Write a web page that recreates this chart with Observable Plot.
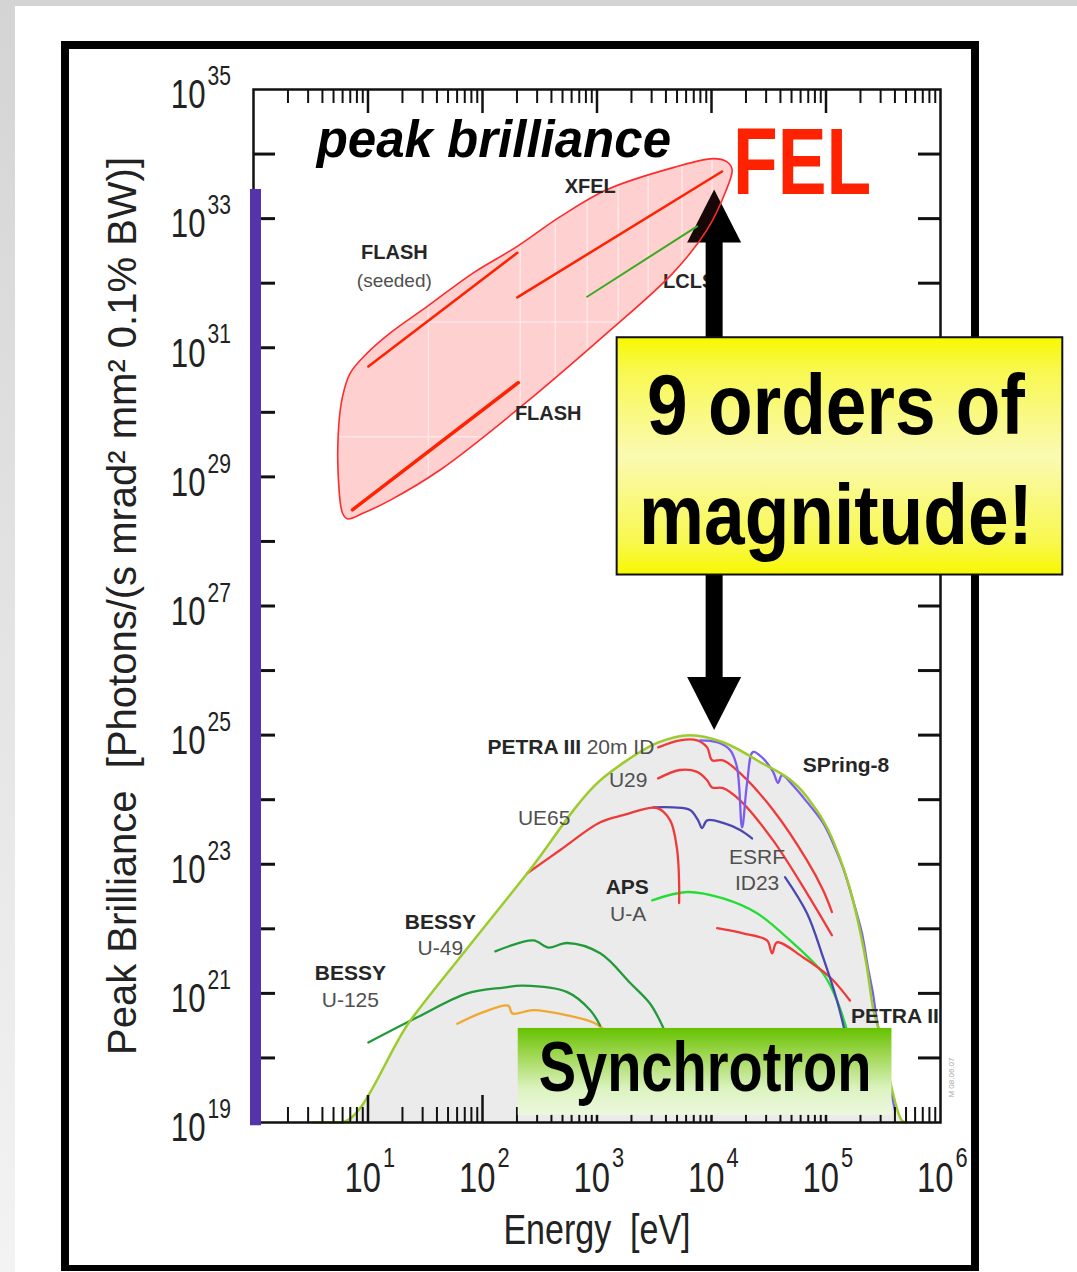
<!DOCTYPE html>
<html>
<head>
<meta charset="utf-8">
<script src="https://cdn.jsdelivr.net/npm/d3@7"></script>
<script src="https://cdn.jsdelivr.net/npm/@observablehq/plot@0.6"></script>
<style>
  html, body { margin: 0; padding: 0; background: #fff; }
  #page { position: relative; width: 1077px; height: 1272px; overflow: hidden; background: #fff; }
  #topband { position: absolute; left: 0; top: 0; width: 1077px; height: 6px; background: #d4d4d4; }
  #leftband { position: absolute; left: 0; top: 0; width: 15px; height: 1272px; background: linear-gradient(#d4d4d4, #f3f3f3); }
  #border { position: absolute; left: 61px; top: 41px; width: 902px; height: 1216px; border: 8px solid #000; border-bottom-width: 6px; }
  #chart { position: absolute; left: 0; top: 0; }
</style>
</head>
<body>
<div id="page">
  <div id="topband"></div>
  <div id="leftband"></div>
  <div id="border"></div>
  <div id="chart"></div>
</div>
<script>
// All positions are decades: [log10 photon energy (eV), log10 peak brilliance].
const energyDecades = [0, 6];
const brillianceDecades = [19, 35];
const energyLabelExps = [1, 2, 3, 4, 5, 6];
const energyMajorTicks = [1, 2, 3, 4, 5];
const brillianceLabelExps = [19, 21, 23, 25, 27, 29, 31, 33, 35];
const brillianceTicks = [20, 21, 22, 23, 24, 25, 26, 27, 28, 29, 30, 31, 32, 33, 34];

// Envelope of third-generation storage-ring sources
const storageEnvelope = [
  [0.515, 19.0], [0.759, 19.0], [1.370, 20.58], [1.832, 21.62], [2.391, 22.86],
  [3.028, 24.30], [3.229, 24.57], [3.525, 24.88], [3.813, 25.00], [4.101, 24.89],
  [4.398, 24.61], [4.834, 24.04], [5.061, 23.37], [5.236, 22.44], [5.358, 21.40],
  [5.410, 20.78], [5.471, 20.38], [5.558, 19.65], [5.663, 19.03], [5.700, 19.0]
];

// Individual undulators
const petra3Id20m = [[3.534, 24.81], [3.726, 24.92], [3.874, 24.92], [3.962, 24.81], [4.005, 24.61], [4.101, 24.61], [4.250, 24.41], [4.538, 23.84], [4.834, 23.06], [4.974, 22.60], [5.052, 22.26]];
const petra3U29 = [[3.534, 24.33], [3.726, 24.46], [3.874, 24.43], [3.962, 24.30], [4.005, 24.19], [4.101, 24.18], [4.250, 23.99], [4.538, 23.37], [4.834, 22.55], [5.052, 21.90]];
const spring8 = [[3.901, 24.92], [4.049, 24.89], [4.162, 24.77], [4.223, 24.50], [4.267, 23.57], [4.311, 24.26], [4.363, 24.74], [4.450, 24.64], [4.538, 24.43], [4.581, 24.26], [4.616, 24.38], [4.712, 24.22], [4.799, 24.04], [4.974, 23.64], [5.061, 23.33], [5.148, 22.95], [5.236, 22.44], [5.314, 21.93], [5.366, 21.40], [5.410, 21.00], [5.445, 20.58], [5.515, 19.96], [5.602, 19.19]];
const bessyUE65 = [[2.391, 22.86], [2.679, 23.22], [3.028, 23.65], [3.229, 23.76], [3.525, 23.87], [3.639, 23.68], [3.700, 23.22], [3.717, 22.71], [3.717, 22.40]];
const esrfUpper = [[3.490, 23.88], [3.665, 23.88], [3.813, 23.84], [3.883, 23.68], [3.918, 23.56], [3.962, 23.68], [4.101, 23.64], [4.250, 23.53], [4.354, 23.40]];
const esrfId23 = [[4.642, 22.80], [4.834, 22.24], [4.974, 21.56], [5.096, 20.89], [5.183, 20.27]];
const apsUA = [[3.482, 22.44], [3.787, 22.57], [4.101, 22.47], [4.398, 22.24], [4.686, 21.82], [4.974, 21.31], [5.096, 20.89], [5.183, 20.43]];
const petra2 = [[4.049, 22.01], [4.276, 21.93], [4.485, 21.82], [4.529, 21.62], [4.572, 21.79], [4.799, 21.56], [5.035, 21.25], [5.209, 20.89]];
const bessyU49 = [[2.112, 21.65], [2.443, 21.82], [2.574, 21.71], [2.740, 21.78], [3.028, 21.62], [3.290, 21.16], [3.464, 20.84], [3.578, 20.47]];
const bessyU125 = [[1.003, 20.24], [1.431, 20.63], [1.867, 21.00], [2.182, 21.09], [2.356, 21.12], [2.740, 21.02], [2.941, 20.74], [3.028, 20.50]];
const bessyDipole = [[1.780, 20.53], [2.007, 20.71], [2.225, 20.81], [2.260, 20.69], [2.443, 20.74], [2.740, 20.66], [2.967, 20.55], [3.070, 20.43]];

// Free-electron lasers
const felRegion = [
  [4.136, 33.88], [4.014, 33.93], [3.665, 33.79], [3.089, 33.45], [2.679, 33.03], [2.304, 32.57],
  [1.920, 32.16], [1.518, 31.64], [1.195, 31.23], [0.995, 30.92], [0.846, 30.61], [0.777, 30.24],
  [0.742, 29.73], [0.742, 28.95], [0.777, 28.44], [0.820, 28.35], [0.960, 28.44], [1.195, 28.64],
  [1.632, 29.11], [2.304, 30.04], [3.089, 31.23], [3.665, 32.16], [3.962, 32.83], [4.119, 33.40], [4.180, 33.76]
];
const xfel = [[2.304, 31.78], [4.092, 33.73]];
const flashSeeded = [[1.003, 30.71], [2.304, 32.47]];
const flash = [[0.864, 28.49], [2.312, 30.46]];
const lcls = [[2.914, 31.79], [3.874, 32.88]];

// Background grid of the FEL panel
const felGridEnergy = [1.527, 2.330, 2.635, 2.914, 3.185, 3.447, 3.743, 4.005];
const felGridBrilliance = [29.62, 31.40];

// Source names
const boldLabels = [
  {text: "PETRA III", x: 2.452, y: 24.81}, {text: "SPring-8", x: 5.175, y: 24.53},
  {text: "APS", x: 3.264, y: 22.64}, {text: "BESSY", x: 1.632, y: 22.10},
  {text: "BESSY", x: 0.846, y: 21.31}, {text: "PETRA II", x: 5.602, y: 20.64},
  {text: "XFEL", x: 2.941, y: 33.50}, {text: "FLASH", x: 1.230, y: 32.47},
  {text: "FLASH", x: 2.574, y: 29.98}
];
const plainLabels = [
  {text: "20m ID", x: 3.205, y: 24.81}, {text: "U29", x: 3.272, y: 24.30},
  {text: "UE65", x: 2.539, y: 23.71}, {text: "ESRF", x: 4.398, y: 23.11},
  {text: "ID23", x: 4.398, y: 22.71}, {text: "U-A", x: 3.272, y: 22.22},
  {text: "U-49", x: 1.632, y: 21.70}, {text: "U-125", x: 0.846, y: 20.89},
  {text: "(seeded)", x: 1.230, y: 32.04}
];
const lclsLabel = [{text: "LCLS", x: 3.805, y: 32.02}];

// Annotations
const headline = [{text: "peak brilliance", x: 2.099, y: 34.21}];
const felTitle = [{text: "FEL", x: 4.188, y: 33.86}];
const gapArrow = [{x: 4.023, tipLow: 25.08, tipHigh: 33.45, shaftLow: 25.88, shaftHigh: 32.64}];
const gapNote = [{text: "9 orders of\nmagnitude!", x: 5.087, y: 29.36, x1: 3.176, x2: 7.068, y1: 27.48, y2: 31.155}];
const synchrotronNote = [{text: "Synchrotron", x: 3.944, y: 19.84, x1: 2.312, x2: 5.576, y1: 19.11, y2: 20.457}];
const brillianceSpan = [{x: 0, y1: 18.95, y2: 33.45}];

const sourceCurves = [
  {points: bessyDipole, color: "#f0a830"},
  {points: bessyU125, color: "#229a3a"},
  {points: bessyU49, color: "#229a3a"},
  {points: apsUA, color: "#22dd33"},
  {points: petra2, color: "#f03a3a"},
  {points: esrfId23, color: "#4a48b0"},
  {points: esrfUpper, color: "#4a48b0"},
  {points: bessyUE65, color: "#f03a3a"},
  {points: petra3U29, color: "#f03a3a"},
  {points: petra3Id20m, color: "#f03a3a"},
  {points: spring8, color: "#7a5cf0"}
];

const W = 1077, H = 1272;
const M = {left: 253, right: 137, top: 89, bottom: 150};
const innerW = W - M.left - M.right;
const innerH = H - M.top - M.bottom;
const FONT = "Liberation Sans, Arial, Helvetica, sans-serif";
const X = d => d[0], Y = d => d[1];

const energyMinorTicks = [];
for (let n = 0; n < 6; ++n) for (let k = 2; k <= 9; ++k) energyMinorTicks.push(n + Math.log10(k));

const arrowUp = {draw(ctx) { ctx.moveTo(0, 0); ctx.lineTo(27, 53); ctx.lineTo(-27, 53); ctx.closePath(); }};
const arrowDown = {draw(ctx) { ctx.moveTo(0, 0); ctx.lineTo(27, -53); ctx.lineTo(-27, -53); ctx.closePath(); }};

// horizontal condensing per text layer
const condense = {
  "tick labels": 0.78,
  "energy title": 0.81,
  "fel title": 0.77,
  "gap note": 0.86,
  "synchrotron note": 0.8
};

const chart = Plot.plot({
  width: W, height: H,
  marginLeft: M.left, marginRight: M.right, marginTop: M.top, marginBottom: M.bottom,
  x: {type: "linear", domain: energyDecades, axis: null},
  y: {type: "linear", domain: brillianceDecades, axis: null},
  style: {fontFamily: FONT, background: "transparent", overflow: "visible"},
  marks: [
    // filled regions and their background grid
    Plot.areaY(storageEnvelope, {x: X, y1: brillianceDecades[0], y2: Y, fill: "#ebebeb", curve: "monotone-x"}),
    Plot.line(felRegion, {x: X, y: Y, curve: "catmull-rom-closed", fill: "#ff4d4d", fillOpacity: 0.19, stroke: "none"}),
    Plot.ruleX(felGridEnergy, {x: d => d, y1: 28.2, y2: 34.0, stroke: "#fff", strokeOpacity: 0.75, strokeWidth: 1.5}),
    Plot.ruleY(felGridBrilliance, {y: d => d, x1: 0.6, x2: 4.3, stroke: "#fff", strokeOpacity: 0.75, strokeWidth: 1.5}),

    // storage-ring curves
    ...sourceCurves.map(c => Plot.line(c.points, {x: X, y: Y, stroke: c.color, strokeWidth: 2.3, curve: "catmull-rom"})),
    Plot.line(storageEnvelope, {x: X, y: Y, stroke: "#9ccc2c", strokeWidth: 2.5, curve: "monotone-x"}),

    // frame and inward ticks
    Plot.frame({stroke: "#111", strokeWidth: 2.5}),
    Plot.tickY(brillianceTicks, {y: d => d, insetRight: innerW - 22, stroke: "#111", strokeWidth: 3}),
    Plot.tickY(brillianceTicks, {y: d => d, insetLeft: innerW - 22, stroke: "#111", strokeWidth: 3}),
    Plot.tickX(energyMajorTicks, {x: d => d, insetBottom: innerH - 24, stroke: "#111", strokeWidth: 2.5}),
    Plot.tickX(energyMinorTicks, {x: d => d, insetBottom: innerH - 14, stroke: "#111", strokeWidth: 2}),
    Plot.tickX(energyMajorTicks, {x: d => d, insetTop: innerH - 27, stroke: "#111", strokeWidth: 2.5}),
    Plot.tickX(energyMinorTicks, {x: d => d, insetTop: innerH - 15, stroke: "#111", strokeWidth: 2}),
    Plot.ruleX(brillianceSpan, {x: "x", y1: "y1", y2: "y2", stroke: "#5533aa", strokeWidth: 11, dx: 2}),

    // tick labels
    Plot.text(brillianceLabelExps, {y: d => d, text: () => "10", frameAnchor: "left", dx: -48, dy: 6, textAnchor: "end", lineAnchor: "middle", fontSize: 40, fill: "#222", ariaDescription: "tick labels"}),
    Plot.text(brillianceLabelExps, {y: d => d, text: d => String(d), frameAnchor: "left", dx: -46, dy: -13, textAnchor: "start", lineAnchor: "middle", fontSize: 27, fill: "#222", ariaDescription: "tick labels"}),
    Plot.text(energyLabelExps, {x: d => d, text: () => "10", frameAnchor: "bottom", dx: 13, dy: 56, textAnchor: "end", lineAnchor: "middle", fontSize: 42, fill: "#222", ariaDescription: "tick labels"}),
    Plot.text(energyLabelExps, {x: d => d, text: d => String(d), frameAnchor: "bottom", dx: 15, dy: 36, textAnchor: "start", lineAnchor: "middle", fontSize: 28, fill: "#222", ariaDescription: "tick labels"}),

    // axis titles
    Plot.text(["Energy\u00a0 [eV]"], {text: d => d, frameAnchor: "bottom", dy: 108, textAnchor: "middle", lineAnchor: "middle", fontSize: 42, fill: "#222", ariaDescription: "energy title"}),
    Plot.text(["Peak Brilliance\u00a0 [Photons/(s mrad\u00b2 mm\u00b2 0.1% BW)]"], {text: d => d, frameAnchor: "left", dx: -130, rotate: -90, textAnchor: "middle", lineAnchor: "middle", fontSize: 40, fill: "#222"}),
    Plot.text(["M 08.06.07"], {text: d => d, frameAnchor: "bottom-right", dx: 11, dy: -45, rotate: -90, textAnchor: "middle", lineAnchor: "middle", fontSize: 8, fill: "#aaa"}),

    // storage-ring labels
    Plot.text(boldLabels.slice(0, 6), {x: "x", y: "y", text: "text", fontSize: 21, fontWeight: "bold", fill: "#262626"}),
    Plot.text(plainLabels.slice(0, 8), {x: "x", y: "y", text: "text", fontSize: 21, fill: "#505050"}),

    // FEL label hidden behind the arrow, then the arrow itself
    Plot.text(lclsLabel, {x: "x", y: "y", text: "text", fontSize: 20, fontWeight: "bold", fill: "#262626"}),
    Plot.ruleX(gapArrow, {x: "x", y1: "shaftLow", y2: "shaftHigh", stroke: "#000", strokeWidth: 17}),
    Plot.dot(gapArrow, {x: "x", y: "tipHigh", symbol: arrowUp, fill: "#000"}),
    Plot.dot(gapArrow, {x: "x", y: "tipLow", symbol: arrowDown, fill: "#000"}),

    // FEL region outline and lines
    Plot.line(felRegion, {x: X, y: Y, curve: "catmull-rom-closed", fill: "#ff4d4d", fillOpacity: 0.09, stroke: "#ff2a2a", strokeWidth: 1.6}),
    Plot.line(xfel, {x: X, y: Y, stroke: "#ff2200", strokeWidth: 2.5}),
    Plot.line(flashSeeded, {x: X, y: Y, stroke: "#ff2200", strokeWidth: 2.5}),
    Plot.line(flash, {x: X, y: Y, stroke: "#ff2200", strokeWidth: 3.5}),
    Plot.line(lcls, {x: X, y: Y, stroke: "#3aaa22", strokeWidth: 2}),
    Plot.text(boldLabels.slice(6), {x: "x", y: "y", text: "text", fontSize: 20, fontWeight: "bold", fill: "#262626"}),
    Plot.text(plainLabels.slice(8), {x: "x", y: "y", text: "text", fontSize: 19, fill: "#505050"}),

    // headline annotations
    Plot.text(headline, {x: "x", y: "y", text: "text", fontSize: 51, fontWeight: "bold", fontStyle: "italic", fill: "#000"}),
    Plot.text(felTitle, {x: "x", y: "y", text: "text", textAnchor: "start", fontSize: 95, fontWeight: "bold", fill: "#ff2200", ariaDescription: "fel title"}),
    Plot.rect(gapNote, {x1: "x1", x2: "x2", y1: "y1", y2: "y2", fill: "url(#noteYellow)", stroke: "#111", strokeWidth: 2}),
    Plot.text(gapNote, {x: "x", y: "y", text: "text", fontSize: 85, fontWeight: "bold", lineHeight: 1.3, fill: "#000", ariaDescription: "gap note"}),
    Plot.rect(synchrotronNote, {x1: "x1", x2: "x2", y1: "y1", y2: "y2", fill: "url(#noteGreen)"}),
    Plot.text(synchrotronNote, {x: "x", y: "y", text: "text", fontSize: 70, fontWeight: "bold", fill: "#000", ariaDescription: "synchrotron note"})
  ]
});

// gradients for the annotation boxes
const defs = document.createElementNS("http://www.w3.org/2000/svg", "defs");
defs.innerHTML = `
  <linearGradient id="noteYellow" x1="0" y1="0" x2="0" y2="1">
    <stop offset="0" stop-color="#f8f800"/>
    <stop offset="0.14" stop-color="#f8f850"/>
    <stop offset="0.5" stop-color="#fafab2"/>
    <stop offset="0.86" stop-color="#f8f850"/>
    <stop offset="1" stop-color="#f8f800"/>
  </linearGradient>
  <linearGradient id="noteGreen" x1="0" y1="0" x2="0" y2="1">
    <stop offset="0" stop-color="#66c200"/>
    <stop offset="0.3" stop-color="#9ed650"/>
    <stop offset="0.7" stop-color="#dcf3c0"/>
    <stop offset="1" stop-color="#ecf8de"/>
  </linearGradient>`;
chart.insertBefore(defs, chart.firstChild);

// narrow the typeface of selected text layers
for (const g of chart.querySelectorAll("g[aria-description]")) {
  const k = condense[g.getAttribute("aria-description")];
  if (!k) continue;
  for (const t of g.querySelectorAll("text")) {
    const tr = t.getAttribute("transform") || "";
    t.setAttribute("transform", `${tr} scale(${k},1)`);
  }
}

document.getElementById("chart").appendChild(chart);
</script>
</body>
</html>
